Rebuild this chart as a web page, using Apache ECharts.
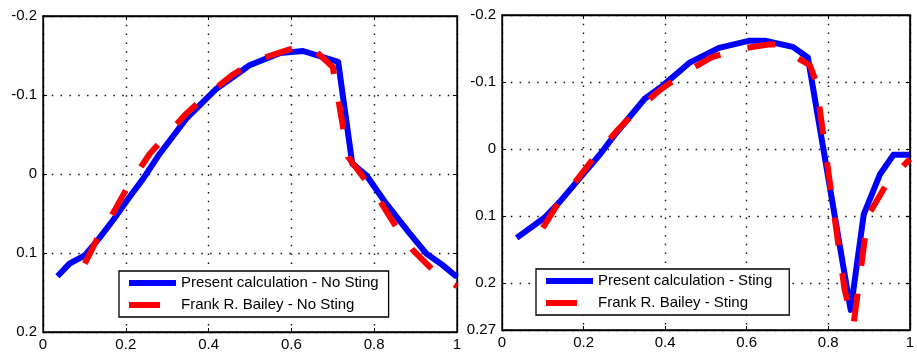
<!DOCTYPE html>
<html>
<head>
<meta charset="utf-8">
<script src="https://cdn.jsdelivr.net/npm/echarts@6/dist/echarts.min.js"></script>
<style>html,body{margin:0;padding:0;background:#fff;}#c{width:917px;height:354px;}</style>
</head>
<body>
<div id="c"></div>
<script>
// ---- Left panel: No Sting ----
var leftCalcX = [0.035,0.064,0.101,0.137,0.169,0.209,0.242,0.282,0.346,0.419,0.499,0.572,0.628,0.713,0.747,0.781,0.829,0.886,0.926,0.966,1.0];
var leftCalcY = [0.1295,0.1135,0.103,0.0806,0.0586,0.0291,0.0059,-0.0257,-0.070,-0.108,-0.1376,-0.153,-0.1557,-0.1418,-0.0131,0.0017,0.0376,0.0755,0.1008,0.1156,0.1304];
var leftBaileyX = [0.101,0.133,0.173,0.209,0.258,0.298,0.346,0.395,0.459,0.515,0.588,0.628,0.652,0.700,0.737,0.773,0.813,0.853,0.894,0.950,0.978,1.0];
var leftBaileyY = [0.1135,0.0797,0.046,0.0122,-0.0257,-0.049,-0.0764,-0.0996,-0.126,-0.144,-0.1565,-0.163,-0.1586,-0.1354,-0.0215,0.0038,0.0333,0.067,0.0966,0.126,0.1346,0.142];

// ---- Right panel: Sting ----
var rightCalcX = [0.036,0.104,0.140,0.185,0.241,0.278,0.350,0.395,0.459,0.532,0.605,0.645,0.713,0.750,0.855,0.887,0.927,0.960,1.0];
var rightCalcY = [0.1325,0.1025,0.080,0.0475,0.0075,-0.0225,-0.075,-0.095,-0.1285,-0.151,-0.1615,-0.1615,-0.1525,-0.1365,0.240,0.0975,0.0375,0.0085,0.0085];
var rightBaileyX = [0.100,0.136,0.185,0.229,0.282,0.330,0.386,0.443,0.512,0.576,0.653,0.681,0.713,0.755,0.770,0.840,0.862,0.897,0.945,1.0];
var rightBaileyY = [0.1175,0.0825,0.045,0.010,-0.0275,-0.0575,-0.0875,-0.1115,-0.1365,-0.1485,-0.156,-0.156,-0.140,-0.125,-0.100,0.210,0.262,0.100,0.050,0.015];

var xTicks = [0, 0.2, 0.4, 0.6, 0.8, 1];
var leftYRange = [-0.2, 0.2];
var rightYRange = [-0.2, 0.27];
var names = {
  leftCalc: 'Present calculation - No Sting',
  leftBailey: 'Frank R. Bailey - No Sting',
  rightCalc: 'Present calculation - Sting',
  rightBailey: 'Frank R. Bailey - Sting'
};

function zip(xs, ys) { return xs.map(function (x, i) { return [x, ys[i]]; }); }

var FONT = 'Liberation Sans';
var gridLine = { show: true, lineStyle: { color: '#111', width: 1.4, type: [1.5, 7.3] } };

function mainX(gi) {
  return {
    type: 'value', gridIndex: gi, min: 0, max: 1, interval: 0.2,
    axisLine: { show: true, onZero: false, lineStyle: { color: '#000', width: 1.3 } },
    axisTick: { show: true, inside: true, length: 4, lineStyle: { color: '#000' } },
    axisLabel: { fontFamily: FONT, fontSize: 15, color: '#000', margin: 5,
      formatter: function (v) { return String(+v.toFixed(2)); } },
    splitLine: gridLine
  };
}
function topX(gi) {
  return {
    type: 'value', gridIndex: gi, position: 'top', min: 0, max: 1, interval: 0.2,
    axisLine: { show: true, onZero: false, lineStyle: { color: '#000', width: 1.3 } },
    axisTick: { show: true, inside: true, length: 4, lineStyle: { color: '#000' } },
    axisLabel: { show: false }, splitLine: { show: false }
  };
}
function mainY(gi, range) {
  return {
    type: 'value', gridIndex: gi, inverse: true, min: range[0], max: range[1], interval: 0.1,
    axisLine: { show: true, onZero: false, lineStyle: { color: '#000', width: 1.3 } },
    axisTick: { show: true, inside: true, length: 4, lineStyle: { color: '#000' } },
    axisLabel: { fontFamily: FONT, fontSize: 15, color: '#000', margin: 6,
      showMinLabel: true, showMaxLabel: true,
      formatter: function (v) { return String(+v.toFixed(2)); } },
    splitLine: gridLine
  };
}
function rightY(gi, range) {
  return {
    type: 'value', gridIndex: gi, position: 'right', inverse: true, min: range[0], max: range[1], interval: 0.1,
    axisLine: { show: true, onZero: false, lineStyle: { color: '#000', width: 1.3 } },
    axisTick: { show: true, inside: true, length: 4, lineStyle: { color: '#000' } },
    axisLabel: { show: false }, splitLine: { show: false }
  };
}

function calcSeries(name, xi, yi, data) {
  return { name: name, type: 'line', xAxisIndex: xi, yAxisIndex: yi, data: data,
    showSymbol: false, symbol: 'none', animation: false, z: 3, color: '#0000FF',
    lineStyle: { color: '#0000FF', width: 6, join: 'round' } };
}
function baileySeries(name, xi, yi, data) {
  return { name: name, type: 'line', xAxisIndex: xi, yAxisIndex: yi, data: data,
    showSymbol: false, symbol: 'none', animation: false, z: 4, color: '#FF0000',
    lineStyle: { color: '#FF0000', width: 6, type: [28, 28], cap: 'butt', join: 'round' } };
}

function legend(left, top, padRight, n1, n2) {
  return {
    orient: 'vertical', left: left, top: top, selectedMode: false,
    padding: [3, padRight, 3, 10], itemGap: 4, itemWidth: 47, itemHeight: 6,
    borderColor: '#000', borderWidth: 1.3, backgroundColor: '#fff',
    textStyle: { fontFamily: FONT, fontSize: 15, color: '#000', lineHeight: 18 },
    itemStyle: { borderWidth: 0 },
    data: [
      { name: n1, icon: 'rect' },
      { name: n2, icon: 'path://M0,0H31V6H0ZM47,0L47,6' }
    ]
  };
}

var option = {
  backgroundColor: '#fff',
  animation: false,
  grid: [
    { left: 43, top: 16, width: 414, height: 316, show: true, borderColor: '#000', borderWidth: 1.3, containLabel: false },
    { left: 502, top: 15, width: 413, height: 315, show: true, borderColor: '#000', borderWidth: 1.3, containLabel: false }
  ],
  xAxis: [mainX(0), mainX(1), topX(0), topX(1)],
  yAxis: [mainY(0, leftYRange), mainY(1, rightYRange), rightY(0, leftYRange), rightY(1, rightYRange)],
  legend: [
    legend(119, 271, 10, names.leftCalc, names.leftBailey),
    legend(536, 269, 17, names.rightCalc, names.rightBailey)
  ],
  series: [
    calcSeries(names.leftCalc, 0, 0, zip(leftCalcX, leftCalcY)),
    baileySeries(names.leftBailey, 0, 0, zip(leftBaileyX, leftBaileyY)),
    calcSeries(names.rightCalc, 1, 1, zip(rightCalcX, rightCalcY)),
    baileySeries(names.rightBailey, 1, 1, zip(rightBaileyX, rightBaileyY))
  ]
};

var chart = echarts.init(document.getElementById('c'), null, { renderer: 'canvas' });
chart.setOption(option);
</script>
</body>
</html>
